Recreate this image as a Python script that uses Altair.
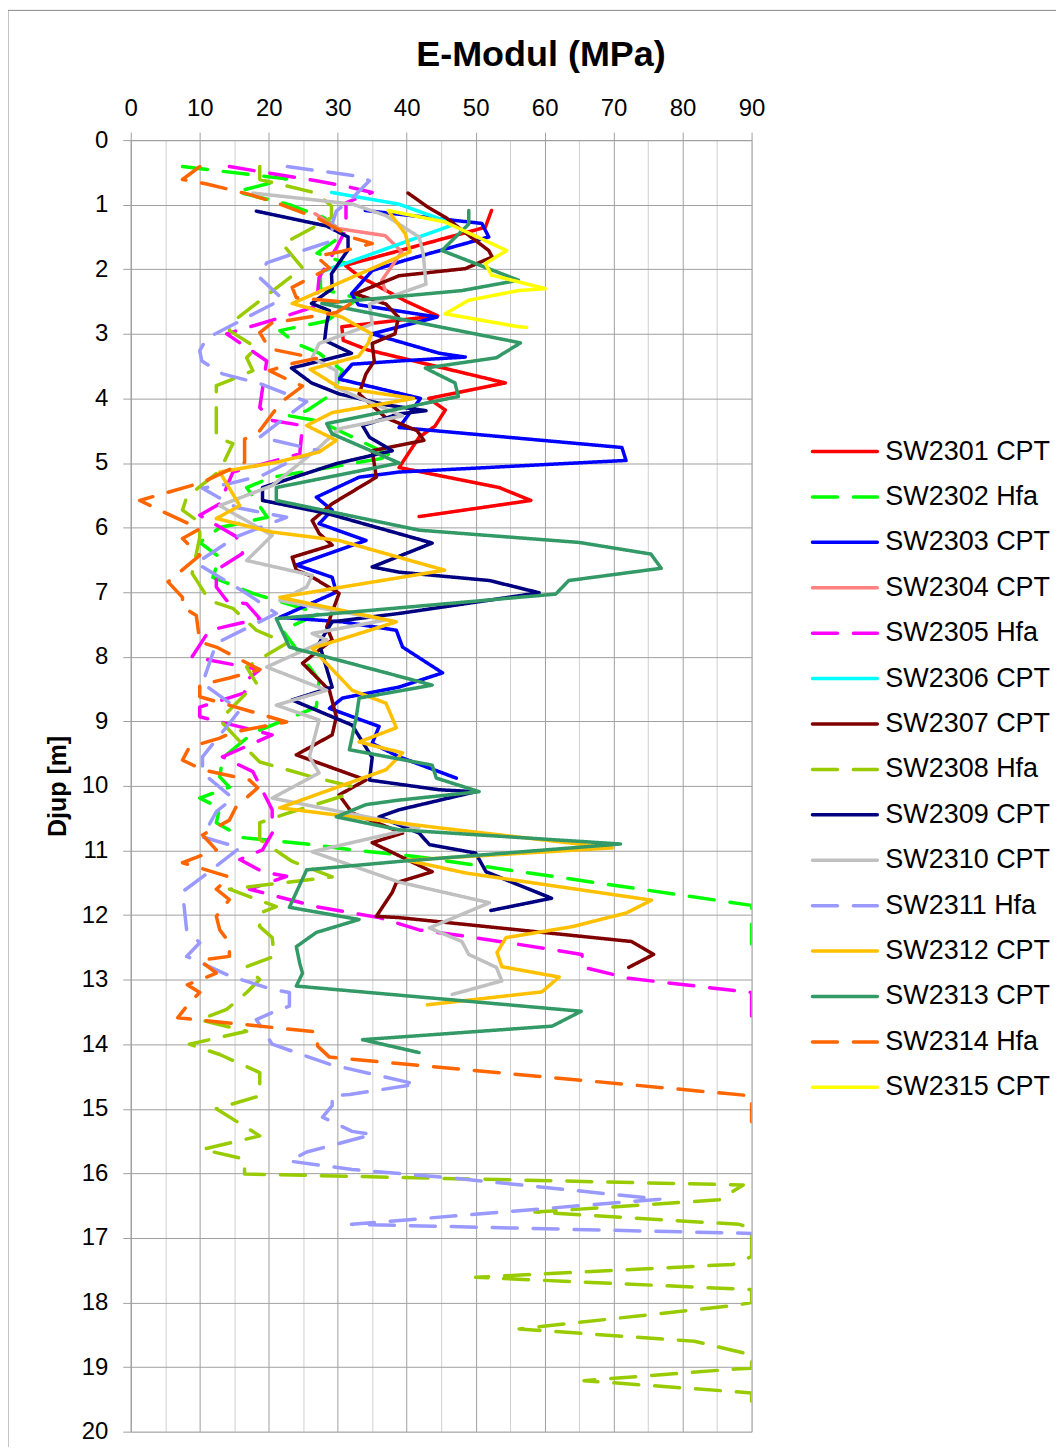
import altair as alt
import pandas as pd

TITLE = "E-Modul (MPa)"
Y_TITLE = "Djup [m]"

SERIES = ["SW2301 CPT", "SW2302 Hfa", "SW2303 CPT", "SW2304 CPT", "SW2305 Hfa",
          "SW2306 CPT", "SW2307 CPT", "SW2308 Hfa", "SW2309 CPT", "SW2310 CPT",
          "SW2311 Hfa", "SW2312 CPT", "SW2313 CPT", "SW2314 Hfa", "SW2315 CPT"]
COLORS = ["#FF0000", "#00FF00", "#0000FF", "#FF8080", "#FF00FF",
          "#00FFFF", "#800000", "#99CC00", "#000080", "#C0C0C0",
          "#9999FF", "#FFC000", "#339966", "#FF6600", "#FFFF00"]

# E-modulus (MPa) and depth (m) per sounding
E2301 = [52.3, 51.4, 31.1, 33, 40, 44.5, 30.6, 30.8, 34.4, 54.3, 43.2, 45.6, 44.1, 41.8, 38.9, 53.4, 58, 41.8]
D2301 = [1.09, 1.35, 1.94, 2.1, 2.5, 2.72, 2.89, 3.1, 3.25, 3.76, 4.0, 4.18, 4.43, 4.6, 5.07, 5.38, 5.58, 5.83]

E2302 = [7.5, 22.6, 15.3, 23, 28, 31, 27, 31, 27.5, 27.5, 33, 28.4, 21.6, 24, 27.3, 30.7, 29.2, 25.5, 23, 27.3,
         38, 20.5, 16.8, 19.8, 12.9, 10, 12.9, 11.9, 17.7, 27.3, 22, 27.3, 26.9, 17.7, 13.3, 12.9, 14.3, 10, 12.9,
         12.4, 16.2, 25.5, 32.1, 41.8, 90, 90]
D2302 = [0.41, 0.6, 0.8, 1.0, 1.2, 1.45, 1.75, 1.9, 2.05, 2.3, 2.45, 2.8, 2.95, 3.15, 3.3, 3.57, 3.93, 4.19, 4.27, 4.35,
         4.9, 5.22, 5.38, 5.84, 6.0, 6.23, 6.46, 6.77, 7.02, 7.33, 7.59, 8.36, 8.78, 9.18, 9.57, 9.86, 10.02, 10.19, 10.34,
         10.57, 10.8, 10.9, 10.99, 11.1, 11.85, 12.45]

E2303 = [34, 50.9, 51.9, 39.8, 35, 32, 33, 44.4, 35, 44.7, 48.5, 38.9, 32.1, 30.2, 42, 38.9, 71.2, 71.8, 38.9, 33.1,
         26.9, 29.2, 27.3, 34.1, 24, 29.2, 29.8, 21.6, 30.7, 38.5, 39.4, 45.2, 38.9, 30.7, 28.8, 36, 35, 38.9, 47.2]
D2303 = [1.09, 1.29, 1.5, 1.86, 2.02, 2.38, 2.55, 2.74, 3.0, 3.3, 3.36, 3.42, 3.47, 3.7, 4.0, 4.45, 4.76, 4.96, 5.14, 5.22,
         5.53, 5.73, 5.94, 6.2, 6.58, 6.77, 7.0, 7.39, 7.46, 7.59, 7.85, 8.25, 8.47, 8.64, 8.8, 9.08, 9.34, 9.55, 9.88]

E2304 = [26.7, 30.1, 36.9, 39.3, 36.4, 36.9]
D2304 = [1.14, 1.37, 1.48, 1.73, 2.17, 2.33]

E2305 = [14.3, 26.9, 31, 35, 31.2, 31.2, 29.8, 27.3, 26.9, 22.6, 13.9, 19.7, 18.7, 20.5, 24.9, 24.5, 14.8, 12.9, 10,
         15.3, 16.2, 12.4, 12.4, 13.9, 16.8, 18.7, 11.4, 8.9, 18.7, 16.8, 16.5, 10, 10, 20.5, 13.3, 17.7, 20.5, 20.5,
         19.1, 15.8, 19.1, 22.6, 17.2, 26.9, 36, 41.8, 48.6, 54.8, 65.4, 65.7, 72.2, 90, 90]
D2305 = [0.41, 0.63, 0.71, 0.81, 0.97, 1.38, 1.67, 2.13, 2.57, 2.72, 3.0, 3.42, 4.14, 4.34, 4.42, 4.86, 5.14, 5.63, 5.81,
         6.14, 6.4, 6.66, 6.92, 7.13, 7.18, 7.41, 7.59, 8.0, 8.2, 8.36, 8.56, 8.78, 8.93, 9.21, 9.55, 9.78, 10.37, 10.73,
         10.99, 11.14, 11.33, 11.4, 11.6, 11.87, 12.04, 12.23, 12.33, 12.43, 12.61, 12.81, 12.98, 13.2, 13.6]

E2306 = [29.1, 38.8, 45.6, 46.5, 27.7]
D2306 = [0.81, 0.99, 1.25, 1.32, 2.04]

E2307 = [40.2, 43.1, 45.7, 47.6, 51.9, 52.4, 48.5, 38.9, 37.3, 32.5, 37, 38.8, 38.3, 35, 35.3, 34.1, 33.1, 37, 41.5,
         42.5, 35, 35.6, 29.2, 26.3, 27.3, 29.2, 23.4, 24, 25.9, 30.2, 28.4, 29.2, 24.9, 28.8, 29.8, 29.2, 24, 34.1,
         30.2, 32.1, 39.4, 35, 43.7, 38.5, 37.9, 35.6, 38.9, 72.6, 75.8, 72.2]
D2307 = [0.82, 1.04, 1.2, 1.36, 1.71, 1.81, 1.99, 2.1, 2.17, 2.38, 2.54, 2.74, 3.0, 3.15, 3.42, 3.62, 3.93, 4.3, 4.5,
         4.65, 4.81, 5.22, 5.63, 5.89, 6.09, 6.27, 6.46, 6.66, 6.74, 7.02, 7.54, 7.74, 8.1, 8.52, 8.93, 9.21, 9.52, 9.91,
         10.14, 10.42, 10.73, 10.88, 11.33, 11.5, 11.65, 12.02, 12.04, 12.41, 12.61, 12.81]

E2308 = [18.7, 18.7, 26.9, 29.1, 29.1, 22, 24.9, 17.7, 14.6, 14.3, 18.2, 16.8, 17.7, 14.8, 12.4, 12.4, 12.4, 14.8,
         12.9, 8.1, 7.5, 10, 10, 8.9, 11.4, 14.8, 18.2, 22.6, 16.8, 18.2, 12.9, 17.2, 18.7, 26.3, 32.1, 31.2, 22, 18.7,
         18.7, 23.4, 29.2, 14.3, 21.1, 18.7, 18.7, 20.5, 20.8, 16.8, 18.7, 16.8, 13.9, 10, 16.8, 8.5, 12.9, 18.7, 18.7,
         12.4, 18.7, 10.4, 16.5, 16.5, 88.8, 85.3, 58.6, 88.2, 90, 90, 87.3, 50, 90, 90, 87.9, 56.3, 81.7, 90, 90, 87.6,
         65.7, 90, 90]
D2308 = [0.41, 0.61, 0.82, 1.02, 1.2, 1.61, 1.98, 2.57, 2.83, 2.95, 3.21, 3.37, 3.57, 3.7, 3.8, 4.45, 4.6, 4.7,
         5.12, 5.53, 5.73, 5.92, 6.15, 6.71, 7.13, 7.25, 7.59, 7.79, 8.16, 8.41, 8.98, 9.47, 9.63, 9.86, 10.01, 10.14,
         10.45, 10.57, 10.83, 11.17, 11.41, 11.6, 11.87, 11.97, 12.18, 12.35, 12.64, 12.8, 13.0, 13.2, 13.46, 13.62,
         13.8, 14.0, 14.16, 14.44, 14.8, 15.0, 15.42, 15.63, 15.78, 16.01, 16.18, 16.41, 16.6, 16.79, 16.85, 17.29,
         17.41, 17.61, 17.8, 18.0, 18.04, 18.41, 18.6, 18.81, 19.02, 19.03, 19.21, 19.4, 19.53]

E2309 = [18.2, 28.4, 31.5, 31.5, 29.1, 29.2, 26.2, 28.8, 28.4, 28.1, 32, 23.3, 26.2, 30.2, 37, 42.8, 38.9, 33.6, 34.6,
         37.9, 29.8, 19.1, 19.1, 28.4, 43.7, 35, 38.9, 52, 59.2, 38.9, 29.2, 27.3, 29.2, 23.4, 32.1, 35, 34.6, 44.7, 50,
         38.9, 36, 41.8, 43.3, 50, 51.5, 61, 52.2]
D2309 = [1.1, 1.33, 1.5, 1.7, 2.07, 2.3, 2.53, 2.64, 2.84, 3.1, 3.3, 3.53, 3.76, 3.93, 4.1, 4.19, 4.24, 4.42, 4.6,
         4.81, 5.01, 5.38, 5.58, 5.78, 6.24, 6.61, 6.69, 6.82, 7.01, 7.33, 7.46, 7.79, 8.47, 8.67, 9.06, 9.56, 9.91,
         10.06, 10.09, 10.37, 10.48, 10.73, 10.91, 11.04, 11.33, 11.74, 11.93]

E2310 = [17.7, 32.1, 37, 41.8, 42.4, 42.8, 34.6, 35, 27.3, 26.3, 29.8, 29.8, 33.1, 39.4, 30.2, 27.3, 20.5, 12.9, 20.5,
         16.8, 26.3, 25.5, 21.6, 37, 26.3, 28.4, 19.7, 28.4, 21.1, 27.3, 25.9, 27.3, 20.5, 41.8, 26.3, 38.9, 52, 43.3,
         48, 49, 53, 53.8, 46.6]
D2310 = [0.82, 0.99, 1.17, 1.5, 1.76, 2.23, 2.54, 2.85, 3.15, 3.37, 3.57, 3.83, 3.99, 4.27, 4.47, 4.76, 5.35, 5.66, 6.12,
         6.51, 6.74, 6.92, 7.13, 7.43, 7.64, 7.74, 8.16, 8.52, 8.75, 8.98, 9.55, 9.8, 10.19, 10.64, 11.02, 11.49, 11.81,
         12.2, 12.41, 12.61, 12.81, 13.02, 13.23]

E2311 = [22.7, 33.1, 34.6, 32.1, 29.8, 29.2, 29.2, 25.5, 19.7, 18.7, 19.7, 22, 18.2, 11, 10, 10.3, 13.3, 18.7, 25.5,
         21.1, 18.7, 27.3, 23.4, 19.1, 14.3, 10.4, 15.3, 22.6, 15.3, 9.5, 16.8, 21.1, 12.4, 10.4, 15.8, 10.4, 10.4,
         14.8, 12.4, 10.4, 15.8, 10.4, 7.5, 8.1, 10, 8.1, 14.5, 20.5, 23, 23, 20.5, 18.2, 20.5, 28.8, 41.4, 31.7, 29.2,
         29.2, 27.8, 32.1, 35, 25.5, 23, 32.1, 47.4, 76.7, 32, 90]
D2311 = [0.41, 0.56, 0.63, 0.9, 1.1, 1.3, 1.56, 1.69, 1.9, 2.13, 2.23, 2.46, 2.67, 3.07, 3.26, 3.42, 3.62, 3.77, 4.05,
         4.4, 4.6, 4.81, 4.96, 5.19, 5.32, 5.39, 5.69, 5.84, 6.14, 6.55, 7.02, 7.33, 7.79, 8.41, 8.83, 9.55, 9.8,
         10.19, 10.4, 10.79, 10.96, 11.41, 11.64, 12.23, 12.43, 12.64, 12.95, 13.15, 13.2, 13.41, 13.51, 13.62, 14.0,
         14.31, 14.62, 14.78, 14.8, 14.95, 15.13, 15.35, 15.4, 15.67, 15.81, 15.94, 16.08, 16.4, 16.79, 16.93]

E2312 = [37.5, 39.8, 40.5, 23.4, 30.6, 34.9, 34.4, 33, 26, 30.2, 41, 29.2, 25.5, 29.8, 27.3, 21.1, 12.9, 15.8, 12.4,
         20.5, 30.2, 45.5, 21.6, 38.5, 26.3, 32.1, 37, 38.5, 33.1, 39.4, 37, 21.6, 44.7, 69.8, 40, 48.6, 75.5, 71.8,
         64, 54.4, 53.1, 53.8, 62.1, 59.6, 43]
D2312 = [1.12, 1.45, 1.73, 2.53, 2.74, 3.0, 3.15, 3.35, 3.55, 3.83, 4.0, 4.22, 4.42, 4.65, 4.83, 4.99, 5.14, 5.66, 5.86,
         6.07, 6.2, 6.66, 7.08, 7.46, 7.87, 8.52, 8.72, 9.1, 9.32, 9.49, 9.75, 10.34, 10.65, 10.96, 11.15, 11.35, 11.77,
         11.97, 12.18, 12.35, 12.58, 12.8, 12.96, 13.19, 13.39]

E2313 = [49, 49, 45.1, 56.2, 48, 27.7, 56.5, 53, 42.7, 47, 47.5, 28.4, 29.2, 38.9, 21.1, 21.1, 41.8, 65, 75.4, 76.9,
         63.5, 61.6, 21.1, 23, 43.7, 33.1, 32.7, 31.7, 43.7, 44.3, 50.5, 38.9, 34.1, 29.8, 38.9, 71, 38.9, 25.5, 23,
         33.1, 26.9, 24, 24.5, 24.9, 24, 65.3, 61.1, 33.6, 41.8]
D2313 = [1.09, 1.3, 1.71, 2.17, 2.33, 2.53, 3.14, 3.37, 3.53, 3.76, 3.97, 4.39, 4.55, 5.0, 5.38, 5.58, 6.04, 6.23, 6.41,
         6.63, 6.82, 7.03, 7.41, 7.85, 8.44, 8.64, 8.93, 9.44, 9.68, 9.88, 10.09, 10.22, 10.29, 10.48, 10.68, 10.9,
         11.17, 11.3, 11.88, 12.07, 12.27, 12.49, 12.75, 12.9, 13.1, 13.49, 13.72, 13.93, 14.13]

E2314 = [10, 7.5, 11, 17.2, 21.6, 27.3, 32.1, 35, 30.7, 26.9, 28.8, 23.4, 24, 32.1, 29.8, 20.5, 18.7, 20.1, 26.9,
         23.4, 20.1, 22.6, 24.9, 22, 20.5, 18.7, 16.5, 16.5, 10.4, 1.3, 4.2, 10, 7.5, 10, 5.4, 7.5, 7.5, 9.5, 10, 12.4,
         18.7, 14.3, 10, 10, 18.2, 22.6, 14.8, 12.9, 8.5, 7.5, 10.4, 17.2, 18.4, 15.3, 14.3, 10.4, 12.4, 7.5, 14.3,
         12.4, 14.3, 12.4, 12.9, 14.3, 14.3, 10, 12.4, 8.2, 10, 8.5, 6.8, 16.8, 26.9, 27.1, 28.8, 90, 90]
D2314 = [0.41, 0.61, 0.68, 0.84, 0.99, 1.22, 1.51, 1.6, 1.72, 1.8, 1.98, 2.28, 2.44, 2.52, 2.67, 2.83, 2.98, 3.23, 3.38,
         3.46, 3.57, 3.7, 3.81, 4.04, 4.24, 4.5, 4.63, 4.99, 5.3, 5.58, 5.73, 6.02, 6.17, 6.43, 6.84, 7.08, 7.23, 7.36,
         7.77, 7.85, 8.2, 8.33, 8.44, 8.62, 8.87, 9.01, 9.17, 9.26, 9.4, 9.6, 9.75, 9.91, 10.03, 10.32, 10.53, 10.76,
         10.99, 11.19, 11.41, 11.6, 11.76, 12.02, 12.23, 12.43, 12.64, 12.7, 12.9, 13.08, 13.2, 13.36, 13.59, 13.7,
         13.81, 14.03, 14.2, 14.8, 15.2]

E2315 = [37.3, 45.6, 54.5, 51.4, 52.3, 60.1, 56.2, 49, 45.6, 56.2, 57.4]
D2315 = [1.09, 1.27, 1.71, 1.91, 2.09, 2.3, 2.33, 2.48, 2.69, 2.89, 2.9]

E_LISTS = [E2301, E2302, E2303, E2304, E2305, E2306, E2307, E2308, E2309, E2310, E2311, E2312, E2313, E2314, E2315]
D_LISTS = [D2301, D2302, D2303, D2304, D2305, D2306, D2307, D2308, D2309, D2310, D2311, D2312, D2313, D2314, D2315]

rows = []
for name, es, ds in zip(SERIES, E_LISTS, D_LISTS):
    if len(es) != len(ds):
        raise ValueError(f"length mismatch in {name}: {len(es)} vs {len(ds)}")
    for i, (e, d) in enumerate(zip(es, ds)):
        rows.append({"series": name, "E": e, "D": d, "i": i})
df = pd.DataFrame(rows)
leg_df = pd.DataFrame({"series": SERIES})
title_df = pd.DataFrame({"t": [TITLE]})

FONT = "Liberation Sans"
MAJOR = "#A0A0A0"
MINOR = "#D0D0D0"
LW = 3.5
DASH_RANGE = [[1, 0] if s.endswith("CPT") else [25, 16] for s in SERIES]

color_enc = alt.Color("series:N", scale=alt.Scale(domain=SERIES, range=COLORS), legend=None)
dash_enc = alt.StrokeDash("series:N", scale=alt.Scale(domain=SERIES, range=DASH_RANGE), legend=None)

x_axis = alt.Axis(
    orient="top", values=list(range(0, 91, 5)), title=None, format="d",
    labelExpr="datum.value % 10 === 0 ? datum.label : ''",
    labelFont=FONT, labelFontSize=24, labelColor="black", labelPadding=17,
    labelBaseline="alphabetic", labelFlush=False,
    tickSize=8, tickColor=MAJOR,
    tickOpacity={"condition": {"test": "datum.value % 10 === 0", "value": 1}, "value": 0},
    gridColor={"condition": {"test": "datum.value % 10 === 0", "value": MAJOR}, "value": MINOR},
    gridWidth=1, domainColor=MAJOR,
)
y_axis = alt.Axis(
    orient="left", values=[k / 2 for k in range(0, 41)], format="d",
    labelExpr="datum.value % 1 === 0 ? datum.label : ''",
    labelFont=FONT, labelFontSize=24, labelColor="black", labelPadding=15, labelFlush=False,
    tickSize=8, tickColor=MAJOR,
    tickOpacity={"condition": {"test": "datum.value % 1 === 0", "value": 1}, "value": 0},
    gridColor={"condition": {"test": "datum.value % 1 === 0", "value": MAJOR}, "value": MINOR},
    gridWidth=1, domainColor=MAJOR,
    title=Y_TITLE, titleFont=FONT, titleFontSize=25, titleFontWeight="bold", titleColor="black",
    titleX=-73, titleY=647, titleAlign="center", titleBaseline="middle", titleAngle=270,
)

lines = alt.Chart(df).mark_line(strokeWidth=LW, strokeCap="round", strokeJoin="round", clip=True).encode(
    x=alt.X("E:Q", scale=alt.Scale(domain=[0, 90], nice=False), axis=x_axis),
    y=alt.Y("D:Q", scale=alt.Scale(domain=[0, 20], nice=False, reverse=True), axis=y_axis),
    color=color_enc,
    strokeDash=dash_enc,
    order=alt.Order("i:Q"),
)

leg_y = alt.Y("series:N", scale=alt.Scale(type="point", domain=SERIES, range=[312, 949], padding=0), axis=None)
leg_rules = alt.Chart(leg_df).mark_rule(strokeWidth=LW, strokeCap="round").encode(
    x=alt.value(683), x2=alt.value(748), y=leg_y, color=color_enc, strokeDash=dash_enc,
)
leg_text = alt.Chart(leg_df).mark_text(align="left", baseline="middle", font=FONT, fontSize=27, color="black").encode(
    x=alt.value(756), y=leg_y, text="series:N",
)

title_mark = alt.Chart(title_df).mark_text(
    align="center", baseline="alphabetic", font=FONT, fontSize=36, fontWeight="bold", color="black"
).encode(x=alt.value(411), y=alt.value(-74), text="t:N")

frame = alt.Chart(pd.DataFrame({"f": [0]})).mark_rect(filled=False, stroke="#888888", strokeWidth=1).encode(
    x=alt.value(-123), x2=alt.value(1000), y=alt.value(-130), y2=alt.value(1400),
)

chart = alt.layer(frame, lines, leg_rules, leg_text, title_mark).resolve_scale(y="independent").properties(
    width=622, height=1294,
    autosize=alt.AutoSizeParams(type="none"),
    padding={"left": 123, "top": 131, "right": 305, "bottom": 14},
).configure_view(strokeWidth=0).configure(background="white")

chart.save("out.html", embed_options={"renderer": "svg", "actions": False})
